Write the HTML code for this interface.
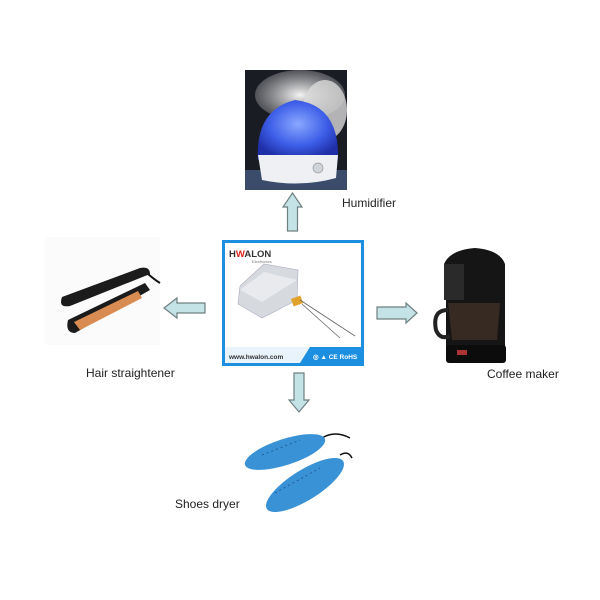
<!DOCTYPE html>
<html><head><style>
html,body{margin:0;padding:0;background:#fff;}
svg{display:block;}
text{font-family:"Liberation Sans",sans-serif;}
</style></head><body>
<svg width="600" height="600" viewBox="0 0 600 600" xmlns="http://www.w3.org/2000/svg">
<defs>
<radialGradient id="dome" cx="0.5" cy="0.4" r="0.6"><stop offset="0" stop-color="#8aa8ff"/><stop offset="0.6" stop-color="#3d5ee8"/><stop offset="1" stop-color="#1f2fa8"/></radialGradient>
<radialGradient id="mist" cx="0.5" cy="0.5" r="0.5"><stop offset="0" stop-color="#f4f4f4"/><stop offset="1" stop-color="#cfcfcf" stop-opacity="0.3"/></radialGradient>
</defs>
<!-- Humidifier -->
<rect x="245" y="70" width="102" height="120" fill="#1a1c24"/>
<rect x="245" y="170" width="102" height="20" fill="#3a4c6a"/>
<ellipse cx="300" cy="95" rx="45" ry="25" fill="url(#mist)"/>
<ellipse cx="325" cy="110" rx="22" ry="30" fill="#d9d9d9" opacity="0.8"/>
<path d="M258 160 Q255 110 295 100 Q340 105 338 160 Z" fill="url(#dome)"/>
<path d="M258 155 L338 155 L336 178 Q300 188 262 180 Z" fill="#eef0f4"/>
<circle cx="318" cy="168" r="5" fill="#cfd3da" stroke="#999" stroke-width="0.7"/>
<!-- up arrow -->
<polygon points="292.5,193 302,207 297.5,207 297.5,231 287.5,231 287.5,207 283,207" fill="#c3e3e6" stroke="#6f8081" stroke-width="1.2"/>
<text x="342" y="207" font-size="12" fill="#222">Humidifier</text>
<!-- Center box -->
<rect x="223.5" y="241.5" width="139" height="123" fill="#fff" stroke="#1c8fe0" stroke-width="3"/>
<text x="229" y="257" font-size="9.5" font-weight="bold" fill="#333">H<tspan fill="#e0241c">W</tspan>ALON</text>
<text x="252" y="263" font-size="4" fill="#777">Electronics</text>
<polygon points="240,286 264,264 298,270 297,300 262,318 238,304" fill="#d6dadf" stroke="#aab" stroke-width="0.6"/>
<polygon points="240,290 264,272 297,280 262,302" fill="#e8eaee"/>
<rect x="292" y="297" width="10" height="8" fill="#e1a22a" transform="rotate(-20 297 301)"/>
<path d="M300 300 L355 336 M302 304 L340 338" stroke="#666" stroke-width="0.8" fill="none"/>
<rect x="225" y="347" width="136" height="16" fill="#e8f3fb"/>
<path d="M300 363 L310 347 L361 347 L361 363 Z" fill="#1c8fe0"/>
<text x="229" y="359" font-size="6.5" font-weight="bold" fill="#333">www.hwalon.com</text>
<text x="313" y="359" font-size="6.5" font-weight="bold" fill="#fff">◎ ▲ CE RoHS</text>
<!-- left arrow -->
<polygon points="164,308 177,298 177,303 205,303 205,313 177,313 177,318" fill="#c3e3e6" stroke="#6f8081" stroke-width="1.2"/>
<!-- hair straightener -->
<rect x="45" y="237" width="115" height="108" fill="#fbfbfb"/>
<path d="M62 297 L140 268 Q150 266 150 274 L70 306 Q58 308 62 297 Z" fill="#1b1b1b"/>
<path d="M68 320 L145 283 L150 290 L75 333 Q65 333 68 320 Z" fill="#1b1b1b"/>
<path d="M74 322 L138 291 L142 298 L80 330 Z" fill="#d98c52"/>
<path d="M148 274 Q155 280 160 283" stroke="#111" stroke-width="2" fill="none"/>
<text x="86" y="377" font-size="12" fill="#222">Hair straightener</text>
<!-- right arrow -->
<polygon points="417,313 406,303 406,307 377,307 377,319 406,319 406,323" fill="#c3e3e6" stroke="#6f8081" stroke-width="1.2"/>
<!-- coffee maker -->
<path d="M444 264 Q450 250 475 248 Q500 250 505 264 L505 360 L446 360 L446 300 L444 264 Z" fill="#151515"/>
<rect x="444" y="264" width="20" height="36" fill="#2a2a2a"/>
<path d="M448 303 L500 303 L497 340 L452 340 Z" fill="#3a2c24" opacity="0.9"/>
<path d="M448 310 Q432 310 436 330 Q440 340 450 336" stroke="#222" stroke-width="4" fill="none"/>
<rect x="446" y="345" width="60" height="18" rx="3" fill="#0c0c0c"/>
<rect x="457" y="350" width="10" height="5" fill="#a33"/>
<text x="487" y="378" font-size="12" fill="#222">Coffee maker</text>
<!-- down arrow -->
<polygon points="299,412 309,400 304,400 304,373 294,373 294,400 289,400" fill="#c3e3e6" stroke="#6f8081" stroke-width="1.2"/>
<!-- shoes dryer -->
<path d="M322 438 Q335 430 350 438" stroke="#111" stroke-width="1.5" fill="none"/>
<path d="M340 455 Q348 450 352 458" stroke="#111" stroke-width="1.5" fill="none"/>
<ellipse cx="285" cy="452" rx="42" ry="13" fill="#3a92d6" transform="rotate(-18 285 452)"/>
<ellipse cx="305" cy="485" rx="45" ry="15" fill="#3a92d6" transform="rotate(-32 305 485)"/>
<path d="M262 455 L300 440 M275 493 L320 468" stroke="#1d5f9a" stroke-width="1" stroke-dasharray="2 3"/>
<text x="175" y="508" font-size="12" fill="#222">Shoes dryer</text>
</svg>
</body></html>
